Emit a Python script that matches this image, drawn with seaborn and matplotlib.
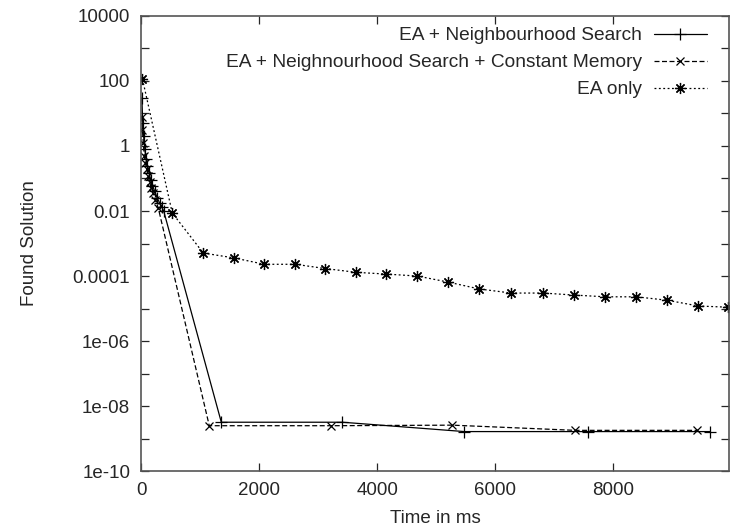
import numpy as np
import pandas as pd
import matplotlib
matplotlib.use("Agg")
import matplotlib.pyplot as plt
import seaborn as sns

# ----------------------------------------------------------
# Data
# ----------------------------------------------------------

ns_time = [10, 25, 40, 60, 80, 100, 130, 160, 190, 230, 270, 310, 350, 380,
           1356, 3407, 5475, 7575, 9640]
ns_value = [30, 5, 2, 0.8, 0.4, 0.25, 0.15, 0.09, 0.06, 0.04, 0.025, 0.018, 0.013, 0.01,
            3.2e-9, 3.2e-9, 1.65e-9, 1.65e-9, 1.65e-9]

cm_time = [5, 20, 35, 50, 70, 90, 115, 140, 170, 200, 240, 290,
           1152, 3220, 5270, 7356, 9420]
cm_value = [8, 3, 1.2, 0.5, 0.3, 0.2, 0.12, 0.08, 0.05, 0.035, 0.022, 0.012,
            2.5e-9, 2.5e-9, 2.6e-9, 1.8e-9, 1.8e-9]

ea_time = [20, 525, 1051, 1576, 2085, 2610, 3119, 3644, 4153, 4678,
           5203, 5729, 6271, 6814, 7339, 7864, 8390, 8915, 9441, 9949]
ea_value = [115, 0.0087, 5.1e-4, 3.6e-4, 2.3e-4, 2.3e-4, 1.7e-4, 1.3e-4, 1.15e-4, 1.0e-4,
            6.5e-5, 4.0e-5, 3.0e-5, 3.0e-5, 2.6e-5, 2.3e-5, 2.3e-5, 1.8e-5, 1.2e-5, 1.1e-5]

labels = [
    "EA + Neighbourhood Search",
    "EA + Neighnourhood Search + Constant Memory",
    "EA only",
]

xticks = [0, 2000, 4000, 6000, 8000]
yticks = [1e-10, 1e-9, 1e-8, 1e-7, 1e-6, 1e-5, 1e-4, 1e-3, 1e-2, 1e-1, 1, 10, 100, 1000, 10000]
ytick_labels = ["1e-10", "", "1e-08", "", "1e-06", "", "0.0001", "", "0.01", "", "1", "", "100", "", "10000"]

# ----------------------------------------------------------
# Figure
# ----------------------------------------------------------

sns.set_style("ticks")
plt.rcParams["font.family"] = ["Liberation Sans", "DejaVu Sans"]
plt.rcParams["font.size"] = 13.5

fig = plt.figure(figsize=(7.32, 5.30), dpi=100)
ax = fig.add_axes([0.193, 0.111, 0.803, 0.859])

line_kw = dict(ax=ax, color="black", lw=0.9, markeredgecolor="black",
               markerfacecolor="none", markeredgewidth=0.9,
               estimator=None, sort=False)

sns.lineplot(x=ns_time, y=ns_value, marker="+", markersize=8,
             label=labels[0], **line_kw)
sns.lineplot(x=cm_time, y=cm_value, linestyle=(0, (4, 2)), marker="x", markersize=6,
             label=labels[1], **line_kw)
sns.lineplot(x=ea_time, y=ea_value, linestyle=(0, (1.5, 2)), marker=(8, 2, 0), markersize=8,
             label=labels[2], **line_kw)

ax.set_yscale("log")
ax.set_xlim(0, 9960)
ax.set_ylim(1e-10, 1e4)
ax.set_xticks(xticks)
ax.set_yticks(yticks)
ax.set_yticklabels(ytick_labels)
ax.yaxis.set_minor_locator(matplotlib.ticker.NullLocator())

ax.tick_params(direction="in", length=6, width=0.9, top=True, right=True, labelsize=13.5, pad=8)
for side in ax.spines.values():
    side.set_color("#555555")
    side.set_linewidth(1.2)

ax.set_xlabel("Time in ms", fontsize=13.5, labelpad=8)
ax.set_ylabel("Found Solution", fontsize=13.5, labelpad=25)

ax.legend(loc="upper right", bbox_to_anchor=(0.963, 0.976), frameon=False,
          markerfirst=False, fontsize=13.8, handlelength=2.8, handletextpad=0.6,
          labelspacing=0.5, borderaxespad=0, borderpad=0)

fig.savefig("out.png", dpi=100, facecolor="white")
